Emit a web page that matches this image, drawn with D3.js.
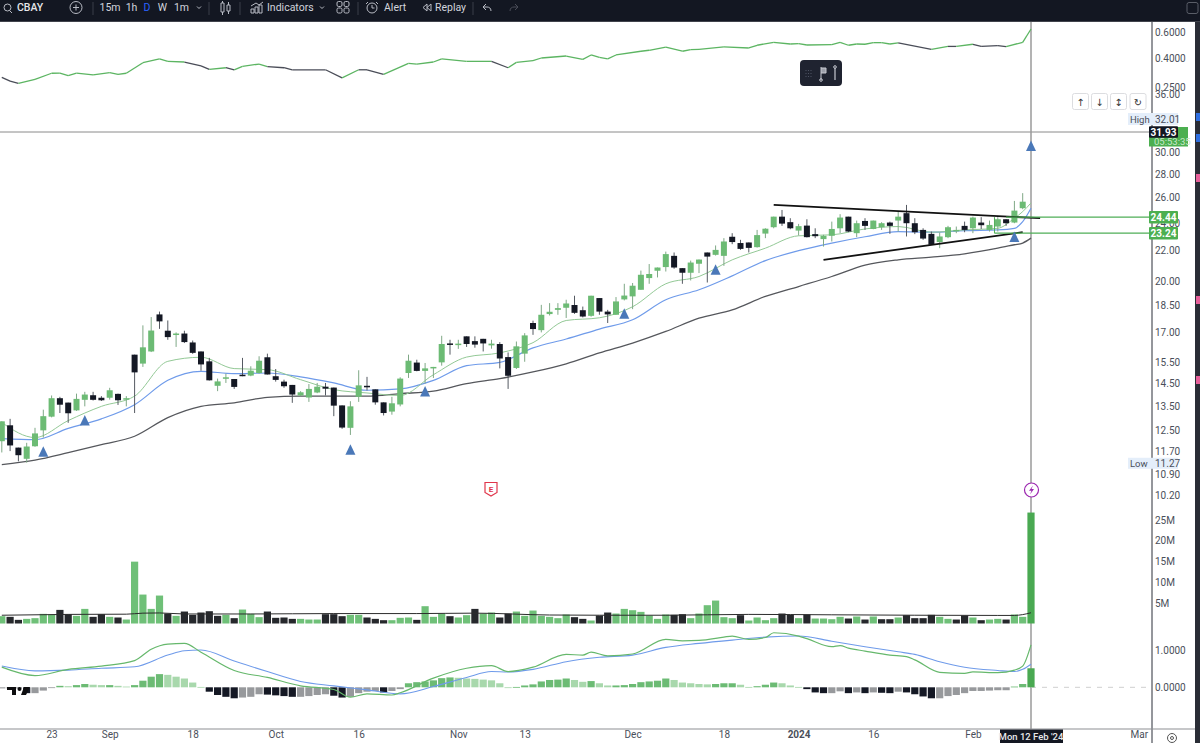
<!DOCTYPE html>
<html>
<head>
<meta charset="utf-8">
<title>CBAY</title>
<script src="https://cdn.jsdelivr.net/npm/d3@7"></script>
<style>
  html, body { margin: 0; padding: 0; background: #fff; overflow: hidden; }
  text { font-family: Roboto, "Noto Sans", sans-serif; }
  .domain { display: none; }
  .tick text { fill: #4a4f5a; font-size: 10px; font-family: Roboto, "Noto Sans", sans-serif; }
</style>
</head>
<body>
<div id="chart"></div>
<script>
// daily candles
var opens = [
  12.08,12.70,11.84,11.43,11.89,12.50,13.05,13.83,13.64,13.31,
  13.76,13.96,13.85,13.85,14.02,13.77,15.86,15.42,16.02,18.00,
  17.10,16.88,16.95,16.48,16.02,15.53,14.38,14.74,14.69,14.89,
  14.85,14.97,15.73,14.82,14.57,14.42,13.95,13.86,14.08,14.34,
  14.30,13.52,12.60,13.89,14.38,14.22,13.65,13.26,13.56,14.97,
  15.47,15.07,15.24,15.48,16.43,16.38,16.80,16.55,16.67,16.33,
  16.40,15.74,15.21,15.91,17.52,17.13,18.02,18.26,18.38,18.54,
  18.24,17.92,18.95,18.16,17.98,18.87,19.05,19.45,20.18,20.65,
  20.89,21.64,20.82,20.52,21.11,21.87,21.71,21.64,22.98,22.53,
  22.57,22.24,23.21,23.68,24.48,24.06,23.43,23.80,23.17,22.81,
  23.05,23.60,24.48,23.24,24.15,23.55,23.68,24.03,24.18,24.75,
  23.98,23.48,23.19,22.60,22.95,23.43,23.78,23.60,24.03,23.48,
  23.73,24.28,24.03,25.14];
var highs = [
  12.86,12.96,11.84,12.02,12.60,13.34,13.95,13.89,13.64,14.03,
  14.11,14.11,13.92,14.29,14.03,13.92,15.86,17.39,17.85,18.16,
  17.66,17.01,17.10,16.58,16.02,15.70,14.71,14.94,14.69,15.70,
  15.29,15.78,15.91,15.16,14.66,14.42,14.14,14.46,14.51,14.51,
  14.30,13.52,13.70,15.10,14.79,14.22,13.65,13.89,14.77,15.86,
  15.61,15.45,15.26,16.83,16.62,16.62,16.80,16.80,16.67,16.62,
  16.50,15.97,16.53,16.97,17.65,18.55,18.65,18.65,18.85,19.09,
  18.45,19.09,18.95,18.26,19.01,19.82,19.87,20.66,21.09,20.86,
  21.93,21.87,20.82,21.32,21.39,21.87,22.36,22.88,23.24,22.76,
  22.57,23.48,23.60,24.48,25.00,24.36,23.93,24.28,23.60,23.12,
  24.10,24.67,24.48,24.18,24.36,24.18,24.06,24.10,24.87,25.40,
  24.36,23.60,23.36,23.29,23.78,23.73,24.10,24.48,24.44,24.18,
  24.44,24.28,25.72,26.36];
var lows = [
  11.66,11.71,11.34,11.29,11.87,12.22,13.02,13.20,12.80,13.29,
  13.48,13.73,13.71,13.77,13.54,13.48,13.20,15.26,15.99,17.20,
  16.62,16.25,16.45,15.90,15.08,14.62,14.14,14.51,14.24,14.82,
  14.82,14.94,14.90,14.57,14.29,13.63,13.92,13.67,14.05,13.95,
  13.07,12.56,12.32,13.67,14.17,13.55,13.10,13.13,13.48,14.74,
  15.05,14.48,14.74,15.32,15.86,16.15,16.25,16.21,16.02,16.16,
  15.19,14.24,15.16,15.51,16.88,17.01,17.94,17.98,17.80,18.03,
  17.83,17.87,17.98,17.52,17.98,18.81,18.30,19.45,19.82,20.22,
  20.60,20.78,19.82,20.03,20.50,19.90,21.66,20.97,22.45,22.05,
  21.87,22.21,22.88,23.60,23.78,23.53,23.07,22.93,22.88,22.28,
  22.64,23.24,23.31,22.95,23.48,23.53,23.48,23.19,23.36,23.00,
  23.17,22.76,22.41,22.17,22.88,23.24,23.31,23.24,23.55,23.36,
  23.36,23.78,23.98,25.06];
var closes = [
  12.86,11.92,11.56,11.88,12.38,13.07,13.83,13.55,13.19,13.80,
  13.99,13.76,13.74,14.18,13.74,13.83,15.00,16.23,17.11,17.61,
  16.76,16.95,16.50,15.95,15.38,14.63,14.58,14.77,14.33,14.82,
  15.08,15.56,14.90,14.65,14.36,13.99,14.09,14.24,14.34,14.25,
  13.51,12.61,13.48,14.40,14.34,13.65,13.20,13.61,14.71,15.56,
  15.07,15.19,15.26,16.40,16.40,16.42,16.40,16.37,16.43,16.42,
  15.67,14.84,16.28,16.85,17.19,17.98,18.15,18.36,18.63,18.09,
  17.88,19.09,18.16,18.00,18.75,19.10,19.70,20.39,20.44,20.86,
  21.76,20.86,20.52,21.19,21.39,21.59,22.05,22.64,22.60,22.12,
  22.19,23.10,23.57,24.48,23.95,23.60,23.76,22.95,23.02,23.05,
  23.55,24.41,23.36,23.98,23.78,24.18,23.98,23.78,24.48,23.98,
  23.31,22.85,22.41,23.00,23.68,23.48,23.48,24.41,23.83,23.85,
  24.28,23.98,24.95,25.66];

// moving averages, sampled every few bars
var maBars = [0,4,8,12,16,20,24,28,32,36,40,44,48,52,56,60,64,68,72,76,80,84,88,92,96,100,104,108,112,116,120,122,123,124];
var maFast = [12.81,12.22,12.89,13.48,13.92,15.53,15.73,15.18,15.13,14.66,14.21,14.06,13.95,14.89,15.74,15.95,16.47,17.66,17.81,18.44,19.82,20.28,21.37,22.17,23.05,23.12,23.55,23.73,23.31,23.48,23.60,24.36,24.87,25.56];
var maMid = [12.18,12.14,12.58,12.96,13.55,14.63,15.05,14.94,14.97,14.79,14.51,14.18,14.24,14.63,15.32,15.48,16.20,16.66,17.19,17.70,18.85,19.45,20.32,21.32,22.00,22.53,22.98,23.36,23.31,23.43,23.48,23.60,24.10,25.14];
var maSlow = [11.22,11.38,11.65,11.95,12.27,13.01,13.48,13.63,13.87,13.92,13.92,13.92,14.03,14.14,14.48,14.71,15.02,15.41,15.95,16.45,17.06,17.79,18.26,19.05,19.65,20.28,21.02,21.37,21.55,21.78,22.17,22.41,22.53,22.88];

// relative strength line in the top pane
var rsBars = [0,1,2,4,6,7,8,9,11,13,14,15,17,19,20,22,24,25,27,28,29,31,32,34,35,39,41,43,44,46,49,50,52,53,56,59,61,62,64,65,68,70,71,72,73,74,77,78,80,82,83,84,87,90,91,93,95,96,97,100,101,102,103,104,105,106,107,108,112,114,115,117,118,120,121,123,124];
var rsValues = [.292,.275,.265,.283,.312,.313,.300,.313,.304,.315,.306,.312,.370,.394,.378,.374,.351,.332,.341,.329,.349,.362,.347,.341,.329,.330,.290,.330,.330,.306,.366,.362,.374,.394,.378,.378,.341,.372,.382,.399,.412,.390,.419,.403,.394,.419,.445,.452,.476,.445,.456,.459,.478,.469,.490,.514,.500,.503,.492,.495,.514,.490,.500,.498,.511,.511,.500,.509,.459,.481,.481,.498,.481,.487,.479,.514,.637];
var rsDarkRanges = [[0,2],[22,25],[27,28],[32,41],[43,46],[59,61],[108,112],[114,115],[117,121]];

// volume in millions
var volumes = [
  1.77,1.61,.88,1.12,1.29,2.33,2.17,3.29,2.25,1.85,
  3.53,1.61,2.25,1.61,1.45,.96,14.94,6.99,3.53,6.75,
  2.41,1.85,2.89,2.09,2.65,2.97,1.85,2.09,1.29,3.37,
  2.33,1.53,2.89,1.37,1.45,1.12,1.12,.96,.96,2.25,
  2.25,1.77,2.09,2.09,1.45,1.12,.80,.80,1.37,1.45,
  .88,4.18,1.61,2.41,1.77,1.45,2.01,3.53,2.41,2.65,
  1.45,2.41,2.89,1.85,3.13,1.85,1.61,1.29,2.17,1.53,
  1.12,.72,1.93,2.65,2.41,3.53,3.21,2.81,1.93,1.12,
  2.17,2.09,2.25,1.29,2.41,4.42,5.54,1.53,1.29,2.01,
  .72,1.45,.80,1.29,2.41,2.09,1.29,2.17,1.20,1.20,
  1.04,1.61,1.20,1.69,.96,1.69,1.04,1.04,1.45,2.01,
  1.29,1.29,2.09,1.61,1.12,.96,1.93,1.45,.80,.96,
  1.12,.96,2.17,1.61,26.8];
var volumeUp = [
  1,0,0,1,1,1,1,0,0,1,
  1,0,0,1,0,1,1,1,1,1,
  0,1,0,0,0,0,0,1,0,1,
  1,1,0,0,0,0,1,1,1,0,
  0,0,1,1,0,0,0,1,1,1,
  0,1,1,1,0,1,1,0,1,1,
  0,0,1,1,1,1,1,1,1,0,
  0,1,0,0,1,1,1,1,1,1,
  1,0,0,1,1,1,1,1,1,0,
  1,1,1,1,0,0,1,0,1,1,
  1,1,0,1,0,1,0,0,1,0,
  0,0,0,1,1,0,0,1,0,1,
  1,0,1,1,1];
var volMaBars = [0,8,15,17,19,22,30,40,50,57,66,72,80,90,100,110,120,122,123,124];
var volMa = [2.0,2.2,2.25,2.5,2.55,2.3,2.3,2.4,2.4,2.5,2.05,2.0,2.0,2.2,2.1,2.0,1.95,1.95,2.15,2.6];

// macd pane
var macdBars = [0,4,8,12,16,18,20,22,24,28,32,36,40,42,44,47,48,52,56,59,61,64,68,70,71,73,76,80,82,84,87,88,90,92,93,96,97,100,101,102,104,107,109,110,113,116,117,120,122,123,124];
var macdLine = [.55,.32,.49,.58,.73,1.04,1.18,1.20,.96,.46,.27,.04,-.06,-.27,-.18,-.21,-.15,.25,.52,.59,.43,.55,.90,.88,.96,.86,.91,1.31,1.27,1.28,1.37,1.40,1.31,1.36,1.49,1.40,1.33,1.11,1.14,1.07,.99,.88,.84,.75,.41,.38,.42,.40,.47,.58,1.16];
var signalBars = [0,4,8,12,16,20,22,24,28,32,36,40,44,48,52,56,59,61,64,68,72,76,80,84,88,92,96,100,104,108,110,113,116,120,122,123,124];
var signalLine = [.58,.45,.47,.52,.56,.88,1.0,1.02,.72,.43,.16,.04,-.07,-.18,.02,.27,.43,.42,.49,.70,.82,.88,1.09,1.20,1.29,1.37,1.40,1.26,1.11,.97,.90,.70,.55,.46,.43,.49,.63];
var macdHist = [
  -.03,-.03,-.03,-.16,-.16,-.09,-.01,.04,.03,.06,
  .09,.07,.06,.06,.04,.02,.06,.18,.29,.36,
  .34,.29,.24,.13,.01,-.12,-.21,-.26,-.30,-.28,
  -.26,-.19,-.20,-.22,-.24,-.26,-.26,-.24,-.21,-.19,
  -.23,-.28,-.26,-.16,-.12,-.10,-.14,-.10,-.05,.11,
  .14,.16,.19,.25,.27,.26,.24,.23,.21,.19,
  .11,0,.01,.05,.08,.16,.20,.21,.24,.20,
  .15,.17,.11,.05,.05,.06,.09,.14,.16,.18,
  .24,.20,.13,.11,.09,.08,.09,.11,.11,.07,
  .01,.03,.07,.13,.11,.05,.01,-.05,-.14,-.16,
  -.16,-.11,-.16,-.14,-.16,-.14,-.15,-.16,-.12,-.14,
  -.19,-.25,-.30,-.30,-.24,-.21,-.16,-.10,-.10,-.09,
  -.08,-.08,.02,.09,.52];

// markers and drawings
var triangleBars = [5,10,42,51,75,86,122,124];
var trianglePrices = [11.50,12.69,11.58,13.90,17.75,20.39,22.60,30.09];
var trendBars = [[93,125.1],[99,123]];
var trendPrices = [[25.41,24.36],[21.37,23.31]];

// axis labels
var priceTicks = [36,30,28,26,24,22,20,18.5,17,15.5,14.5,13.5,12.5,11.7,10.9,10.2];
var rsTicks = [.6,.4,.25];
var volTicks = [25,20,15,10,5];
var macdTicks = [1,0];
var dateBars = [6,13,23,33,43,55,63,76,87,96,105,117,137];
var dateLabels = ["23","Sep","18","Oct","16","Nov","13","Dec","18","2024","16","Feb","Mar"];
var toolbarLabels = ["15m","1h","D","W","1m"];
var toolbarLabelX = [110,131.5,147,162.5,181.5];

var width = 1200, height = 743;
var axisX = 1152, crossBar = 124;

var svg = d3.select("#chart").append("svg")
  .attr("width", width).attr("height", height)
  .style("display", "block");

svg.append("defs").append("clipPath").attr("id", "paneClip")
  .append("rect").attr("x", 0).attr("y", 22).attr("width", axisX).attr("height", 707);

// scales
var x = d3.scaleLinear().domain([0, 124]).range([1.8, 1031]);
var yPrice = d3.scaleLog().domain([10.2, 30]).range([495, 152]);
var yRs = d3.scaleLog().domain([.25, .6]).range([87, 32.7]);
var yVol = d3.scaleLinear().domain([0, 25]).range([623.5, 520]);
var yMacd = d3.scaleLinear().domain([0, 1]).range([687.3, 650.7]);

var green = "#6cbb74", black = "#141824";
var chart = svg.append("g").attr("clip-path", "url(#paneClip)");

// hairlines
chart.append("line").attr("x1", 0).attr("x2", axisX).attr("y1", 132).attr("y2", 132)
  .attr("stroke", "#8a8a8a").attr("stroke-width", 1);
chart.append("line").attr("x1", x(crossBar)).attr("x2", x(crossBar)).attr("y1", 22).attr("y2", 729)
  .attr("stroke", "#9a9a9a").attr("stroke-width", 1.5);

// top pane line, coloured segment by segment
var rsLine = d3.line().x(d => x(d[0])).y(d => yRs(d[1]));
var rsPoints = rsBars.map((b, k) => [b, rsValues[k]]);
d3.pairs(rsPoints).forEach(function(seg) {
  var dark = rsDarkRanges.some(r => seg[0][0] >= r[0] && seg[1][0] <= r[1]);
  chart.append("path").attr("d", rsLine(seg)).attr("fill", "none")
    .attr("stroke", dark ? "#4a4d58" : "#5cb562").attr("stroke-width", 1.3);
});

// moving averages
var maLine = d3.line().curve(d3.curveMonotoneX).x(d => x(d[0])).y(d => yPrice(d[1]));
[[maSlow, "#55575c", 1.3], [maMid, "#6f9bea", 1.2], [maFast, "#93c996", 1]].forEach(function(s) {
  chart.append("path").attr("d", maLine(maBars.map((b, k) => [b, s[0][k]])))
    .attr("fill", "none").attr("stroke", s[1]).attr("stroke-width", s[2]);
});

// candles
var candles = opens.map((o, i) => ({ i: i, o: o, h: highs[i], l: lows[i], c: closes[i] }));
var candle = chart.append("g").selectAll("g").data(candles).enter().append("g");
candle.append("line")
  .attr("x1", d => x(d.i)).attr("x2", d => x(d.i))
  .attr("y1", d => yPrice(d.h)).attr("y2", d => yPrice(d.l))
  .attr("stroke", d => d.c >= d.o ? "#7fa886" : "#555a62").attr("stroke-width", 1);
candle.append("rect")
  .attr("x", d => x(d.i) - 3).attr("width", 6)
  .attr("y", d => yPrice(Math.max(d.o, d.c)))
  .attr("height", d => Math.max(1.5, yPrice(Math.min(d.o, d.c)) - yPrice(Math.max(d.o, d.c))))
  .attr("fill", d => d.c >= d.o ? green : black);

// hand drawn trend lines
trendBars.forEach(function(b, k) {
  chart.append("line")
    .attr("x1", x(b[0])).attr("x2", x(b[1]))
    .attr("y1", yPrice(trendPrices[k][0])).attr("y2", yPrice(trendPrices[k][1]))
    .attr("stroke", "#111").attr("stroke-width", 1.8);
});

// horizontal levels
var levelPrices = [24.44, 23.24], levelStartBars = [121, 119.6];
levelPrices.forEach(function(p, k) {
  chart.append("line").attr("x1", x(levelStartBars[k])).attr("x2", axisX)
    .attr("y1", yPrice(p)).attr("y2", yPrice(p))
    .attr("stroke", "#4fae57").attr("stroke-width", 1.3);
});
chart.append("line").attr("x1", x(119.6)).attr("x2", x(119.6))
  .attr("y1", yPrice(24.44)).attr("y2", yPrice(23.24))
  .attr("stroke", "#4fae57").attr("stroke-width", 1);

// signal triangles
chart.append("g").selectAll("path").data(triangleBars).enter().append("path")
  .attr("d", function(b, k) {
    var tx = x(b), ty = yPrice(trianglePrices[k]);
    return d3.line()([[tx - 5, ty], [tx + 5, ty], [tx, ty - 10.5]]) + "Z";
  })
  .attr("fill", "#4a78b8");

// volume
chart.append("g").selectAll("rect").data(volumes).enter().append("rect")
  .attr("x", (v, i) => x(i) - 3.6).attr("width", 7.2)
  .attr("y", v => yVol(v)).attr("height", v => yVol(0) - yVol(v))
  .attr("fill", (v, i) => i == 124 ? "#4aa952" : (volumeUp[i] ? "#6fc078" : "#26282c"));
chart.append("path")
  .attr("d", d3.line().curve(d3.curveMonotoneX).x(d => x(d[0])).y(d => yVol(d[1]))(volMaBars.map((b, k) => [b, volMa[k]])))
  .attr("fill", "none").attr("stroke", "#2c2c2c").attr("stroke-width", 1);

// macd histogram, colour follows sign and direction
function histColor(v, i) {
  var prev = i > 0 ? macdHist[i - 1] : v;
  if (v >= 0) return i == 124 ? "#4aa952" : (v >= prev ? "#6cbb74" : "#a8d8ac");
  return v < prev ? "#141824" : "#97999c";
}
chart.append("line").attr("x1", x(124)).attr("x2", axisX)
  .attr("y1", yMacd(0)).attr("y2", yMacd(0))
  .attr("stroke", "#cfcfcf").attr("stroke-dasharray", "5 6");
chart.append("g").selectAll("rect").data(macdHist).enter().append("rect")
  .attr("x", (v, i) => x(i) - 3.6).attr("width", 7.2)
  .attr("y", v => Math.min(yMacd(v), yMacd(0)))
  .attr("height", v => Math.max(0.8, Math.abs(yMacd(v) - yMacd(0))))
  .attr("fill", histColor);
var macdPath = d3.line().curve(d3.curveMonotoneX).x(d => x(d[0])).y(d => yMacd(d[1]));
chart.append("path").attr("d", macdPath(signalBars.map((b, k) => [b, signalLine[k]])))
  .attr("fill", "none").attr("stroke", "#6f9bea").attr("stroke-width", 1.1);
chart.append("path").attr("d", macdPath(macdBars.map((b, k) => [b, macdLine[k]])))
  .attr("fill", "none").attr("stroke", "#66b86c").attr("stroke-width", 1.2);

// watermark logo bottom left
var logo = svg.append("g").attr("fill", "#0e0e10");
logo.append("path").attr("d", "M7 687h9v8h-4v-5h-5z");
logo.append("circle").attr("cx", 19.5).attr("cy", 689).attr("r", 2);
logo.append("path").attr("d", "M24 687h6l-4 8h-5z");

// earnings badge and the bolt marker
var badge = svg.append("g").attr("transform", "translate(491,489)");
badge.append("path").attr("d", "M-6 -6.5H6V3.5L0 7L-6 3.5Z").attr("fill", "#fff").attr("stroke", "#e0364b").attr("stroke-width", 1.2);
badge.append("text").attr("text-anchor", "middle").attr("y", 2.5).attr("font-size", 8).attr("font-weight", 700).attr("fill", "#e0364b").text("E");
var bolt = svg.append("g").attr("transform", "translate(1031.5,490)");
bolt.append("circle").attr("r", 7).attr("fill", "#fff").attr("stroke", "#9c27b0").attr("stroke-width", 1.2);
bolt.append("path").attr("d", "M1.5 -4.5L-2.5 0.8H0L-1.5 4.5L2.5 -1H0Z").attr("fill", "#9c27b0");

// price axis column
svg.append("rect").attr("x", axisX).attr("y", 22).attr("width", 43).attr("height", 721).attr("fill", "#fff");
svg.append("line").attr("x1", axisX).attr("x2", axisX).attr("y1", 22).attr("y2", 743).attr("stroke", "#2a2e39").attr("stroke-width", 1);
svg.append("line").attr("x1", 0).attr("x2", 1195).attr("y1", 729).attr("y2", 729).attr("stroke", "#8d8f94").attr("stroke-width", 1.2);

function addAxis(scale, ticks, fmt) {
  svg.append("g").attr("transform", "translate(" + (axisX + 1) + ",0)")
    .call(d3.axisRight(scale).tickValues(ticks).tickFormat(fmt).tickSize(0).tickPadding(2));
}
addAxis(yRs, rsTicks, d3.format(".4f"));
addAxis(yPrice, priceTicks, d3.format(".2f"));
addAxis(yVol, volTicks, d => d + "M");
addAxis(yMacd, macdTicks, d3.format(".4f"));

// date axis
var dateAxis = svg.append("g").attr("transform", "translate(0,730)")
  .call(d3.axisBottom(x).tickValues(dateBars).tickFormat((d, k) => dateLabels[k]).tickSize(0).tickPadding(1));
dateAxis.selectAll("text").style("font-weight", (d, k) => dateLabels[k] == "2024" ? 700 : 400);
var dateBox = svg.append("g");
dateBox.append("rect").attr("x", 1000).attr("y", 729.5).attr("width", 63).attr("height", 13.5).attr("fill", "#131722");
dateBox.append("text").attr("x", x(124)).attr("y", 739.5).attr("text-anchor", "middle")
  .attr("font-size", 9.5).attr("font-weight", 500).attr("fill", "#e8e8ea").text("Mon 12 Feb '24");
var cog = svg.append("g").attr("transform", "translate(1172,738)");
cog.append("circle").attr("r", 4.5).attr("fill", "none").attr("stroke", "#555");
cog.append("circle").attr("r", 1.5).attr("fill", "none").attr("stroke", "#555");

// value labels sitting on the price axis
function axisTag(y0, h, bg, label, fg) {
  svg.append("rect").attr("x", axisX - 3).attr("y", y0 - h / 2).attr("width", 29).attr("height", h).attr("rx", 1).attr("fill", bg);
  svg.append("text").attr("x", axisX + 11.5).attr("y", y0 + 3.5).attr("text-anchor", "middle")
    .attr("font-size", 10).attr("font-weight", 700).attr("fill", fg).text(label);
}
svg.append("rect").attr("x", 1128).attr("y", 113).attr("width", 50).attr("height", 12).attr("fill", "#e4eefa");
svg.append("text").attr("x", 1130).attr("y", 122.5).attr("font-size", 9.5).attr("fill", "#4a4f5a").text("High");
svg.append("text").attr("x", 1155).attr("y", 122.5).attr("font-size", 10).attr("fill", "#4a4f5a").text("32.01");
svg.append("rect").attr("x", axisX - 3).attr("y", 127).attr("width", 39).attr("height", 19.5).attr("fill", "#4caf50");
svg.append("text").attr("x", axisX + 2).attr("y", 145).attr("font-size", 9.5).attr("fill", "#c9e9cb").text("05:53:35");
axisTag(132, 11.5, "#131722", "31.93", "#fff");
axisTag(yPrice(24.44), 12.5, "#4caf50", "24.44", "#fff");
axisTag(yPrice(23.24), 12.5, "#4caf50", "23.24", "#fff");
svg.append("rect").attr("x", 1128).attr("y", yPrice(11.27) - 5.5).attr("width", 50).attr("height", 11).attr("fill", "#e4eefa");
svg.append("text").attr("x", 1130).attr("y", yPrice(11.27) + 3.3).attr("font-size", 9.5).attr("fill", "#4a4f5a").text("Low");
svg.append("text").attr("x", 1155).attr("y", yPrice(11.27) + 3.3).attr("font-size", 10).attr("fill", "#4a4f5a").text("11.27");

// little scale buttons above the price axis
var btnX = [1080.5, 1099.5, 1118.5, 1138];
var btnGlyph = ["\u2191", "\u2193", "\u2195", "\u21BB"];
btnX.forEach(function(bx, k) {
  svg.append("rect").attr("x", bx - 8).attr("y", 93.5).attr("width", 16).attr("height", 16).attr("rx", 2)
    .attr("fill", "#fff").attr("stroke", "#dcdde0");
  svg.append("text").attr("x", bx).attr("y", 105.5).attr("text-anchor", "middle").attr("font-size", 10).attr("fill", "#333")
    .style("font-family", "DejaVu Sans").text(btnGlyph[k]);
});

// right hand strip
svg.append("rect").attr("x", 1195).attr("y", 22).attr("width", 5).attr("height", 721).attr("fill", "#2a2d36");
[[117, "#2f6fe0"], [138, "#2f6fe0"], [178, "#e8609a"], [300, "#e8609a"], [380, "#e8609a"]].forEach(function(m) {
  svg.append("rect").attr("x", 1196).attr("y", m[0] - 4).attr("width", 4).attr("height", 8).attr("fill", m[1]);
});

// floating drawing toolbar
var floatBar = svg.append("g").attr("transform", "translate(800,60)");
floatBar.append("rect").attr("width", 42).attr("height", 26).attr("rx", 4).attr("fill", "#1f2330");
d3.range(3).forEach(function(c) {
  d3.range(3).forEach(function(r) {
    floatBar.append("circle").attr("cx", 6 + c * 2.5).attr("cy", 10.5 + r * 3).attr("r", .6).attr("fill", "#555b6b");
  });
});
floatBar.append("path").attr("d", "M21 7V20M21 8h5v5h-5").attr("fill", "#9da0aa").attr("stroke", "#c6c8d0").attr("stroke-width", 1);
floatBar.append("path").attr("d", "M35 8V20").attr("stroke", "#c6c8d0").attr("stroke-width", 1.2);
floatBar.append("circle").attr("cx", 35).attr("cy", 7).attr("r", 1.3).attr("fill", "none").attr("stroke", "#c6c8d0");
floatBar.append("circle").attr("cx", 21).attr("cy", 20).attr("r", 1.3).attr("fill", "none").attr("stroke", "#c6c8d0");

// top toolbar
var bar = svg.append("g");
bar.append("rect").attr("width", width).attr("height", 21).attr("fill", "#131722");
bar.append("rect").attr("y", 21).attr("width", width).attr("height", 1).attr("fill", "#41444c");
[93, 209, 240, 358, 473].forEach(function(sx) {
  bar.append("line").attr("x1", sx).attr("x2", sx).attr("y1", 2).attr("y2", 15).attr("stroke", "#3a3e48");
});
function barText(tx, label, col, anchor, weight) {
  bar.append("text").attr("x", tx).attr("y", 11).attr("font-size", 10.5).attr("font-weight", weight || 400)
    .attr("text-anchor", anchor || "start").attr("fill", col || "#d1d4dc").text(label);
}
barText(17, "CBAY", "#e6e7ea", "start", 500);
toolbarLabels.forEach(function(t, k) {
  barText(toolbarLabelX[k], t, t == "D" ? "#2962ff" : "#d1d4dc", "middle");
});
barText(267, "Indicators");
barText(384, "Alert");
barText(435, "Replay");
var iconStroke = "#b8bbc4";
function icon(d, col) {
  bar.append("path").attr("d", d).attr("fill", "none").attr("stroke", col || iconStroke).attr("stroke-width", 1);
}
icon("M9.5 10.5L12 13M4 7.5a3.5 3.5 0 1 0 7 0a3.5 3.5 0 1 0 -7 0");
bar.append("circle").attr("cx", 76).attr("cy", 7.5).attr("r", 6).attr("fill", "none").attr("stroke", iconStroke);
icon("M76 4.5V10.5M73 7.5H79");
icon("M197 6.5l2 2l2 -2");
icon("M221 3h3v9h-3zM222.5 1v2M222.5 12v3M227 5h3v6h-3zM228.5 2v3M228.5 11v3");
icon("M251 13v-4h3v4zM255 13v-6h3v6zM259 13v-8h3v8zM251 6l5 -3l3 2l4 -3");
icon("M320 6.5l2 2l2 -2");
[337, 344].forEach(function(gx) {
  [1.5, 8].forEach(function(gy) {
    bar.append("rect").attr("x", gx).attr("y", gy).attr("width", 5).attr("height", 5).attr("rx", 1.5).attr("fill", "none").attr("stroke", iconStroke);
  });
});
bar.append("circle").attr("cx", 372).attr("cy", 8).attr("r", 5).attr("fill", "none").attr("stroke", iconStroke);
icon("M372 5v3h2.5M368 2l-2 2M376 2l2 2");
icon("M427 4l-4 3.5l4 3.5zM431 4l-4 3.5l4 3.5z");
icon("M491 11c0 -3 -2 -4 -4 -4h-3M486 4l-3 3l3 3");
icon("M510 11c0 -3 2 -4 4 -4h3M515 4l3 3l-3 3", "#4a4d58");
bar.append("rect").attr("x", 1187).attr("y", 2.5).attr("width", 11).attr("height", 11).attr("rx", 2).attr("fill", "none").attr("stroke", "#5a5e68");
</script>
</body>
</html>
